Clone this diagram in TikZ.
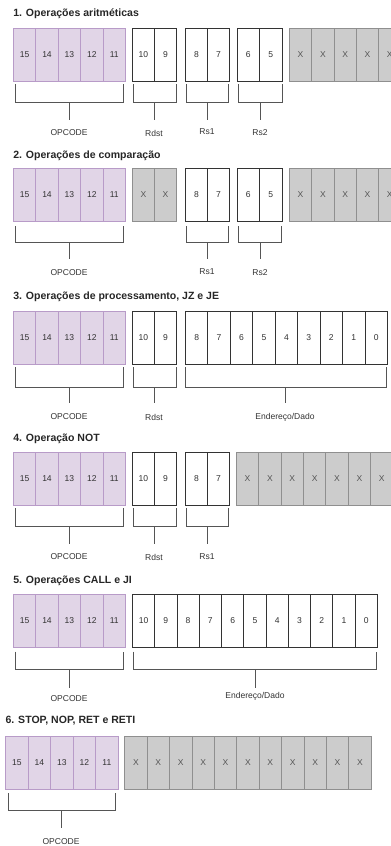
\documentclass[tikz,border=0pt]{standalone}
\usepackage{fontspec}
\setmainfont{Liberation Sans}
\definecolor{pfill}{HTML}{E1D5E7}
\definecolor{pdraw}{HTML}{B89BC8}
\definecolor{gfill}{HTML}{CCCCCC}
\definecolor{gdraw}{HTML}{8F8F8F}
\definecolor{txt}{HTML}{333333}
\definecolor{xtxt}{HTML}{555555}
\definecolor{brc}{HTML}{555555}
\tikzset{
  cellbase/.style={inner sep=0pt, line width=0.6pt, font=\fontsize{6.4pt}{7pt}\selectfont},
  opc/.style={cellbase, draw=pdraw, fill=pfill, text=txt},
  wht/.style={cellbase, draw=black!80, fill=white, text=txt},
  gry/.style={cellbase, draw=gdraw, fill=gfill, text=xtxt},
  brk/.style={draw=brc, line width=0.6pt},
  lbl/.style={inner sep=0pt, text=txt, font=\fontsize{6.4pt}{7pt}\selectfont},
  ttl/.style={inner sep=0pt, anchor=west, font=\bfseries\fontsize{7.9pt}{9pt}\selectfont, text=black!85}
}
% #1 name, #2 x0, #3 x1, #4 ytop, #5 n, #6 style, #7 labels
\newcommand\grp[7]{%
  \pgfmathsetmacro\cw{(#3-#2)/#5}%
  \foreach \t [count=\i from 0] in {#7}{%
    \node[#6, anchor=north west, minimum width=\cw*0.75pt, minimum height=52.5*0.75pt] (#1-\i) at ({#2+\i*\cw},#4) {\t};
  }%
}
% #1 name, #2 x0, #3 x1, #4 ytop, #5 yh, #6 ybot, #7 stem x, #8 label y, #9 text
\newcommand\brkt[9]{%
  \coordinate (#1-a) at (#2,#4);
  \coordinate (#1-b) at (#3,#4);
  \coordinate (#1-m) at (#7,#5);
  \coordinate (#1-e) at (#7,#6);
  \draw[brk] (#1-a) -- (#1-a |- #1-m) -- (#1-b |- #1-m) -- (#1-b);
  \draw[brk] (#1-m) -- (#1-e);
  \node[lbl] (#1-t) at (#7,#8) {#9};
}
\begin{document}
\begin{tikzpicture}[x=0.75pt,y=-0.75pt]
\useasboundingbox (0,0) rectangle (391,846);
\clip (0,0) rectangle (391,846);
% ---------- 1
\node[ttl] (t1) at (13,14) {1. Operações aritméticas};
\grp{a}{13}{125}{28}{5}{opc}{15,14,13,12,11}
\grp{b}{132}{176}{28}{2}{wht}{10,9}
\grp{c}{185}{229}{28}{2}{wht}{8,7}
\grp{d}{236.5}{281.5}{28}{2}{wht}{6,5}
\grp{e}{289}{400.5}{28}{5}{gry}{X,X,X,X,X}
\brkt{a1}{15.5}{123}{84}{102}{120}{69}{133}{OPCODE}
\brkt{b1}{133}{176}{84}{102}{120}{154}{133}{Rdst}
\brkt{c1}{186}{228}{84}{102}{120}{207}{132}{Rs1}
\brkt{d1}{238.5}{282.5}{84}{102}{120}{260}{133}{Rs2}
% ---------- 2
\node[ttl] (t2) at (13,155.7) {2. Operações de comparação};
\grp{f}{13}{125}{168}{5}{opc}{15,14,13,12,11}
\grp{g}{132}{176}{168}{2}{gry}{X,X}
\grp{h}{185}{229}{168}{2}{wht}{8,7}
\grp{i}{236.5}{281.5}{168}{2}{wht}{6,5}
\grp{j}{289}{400.5}{168}{5}{gry}{X,X,X,X,X}
\brkt{a2}{15.5}{123}{226}{242}{259}{69}{273}{OPCODE}
\brkt{c2}{186}{228}{226}{242}{259}{207}{272}{Rs1}
\brkt{d2}{238}{281}{226}{242}{259}{260}{273}{Rs2}
% ---------- 3
\node[ttl] (t3) at (13,297) {3. Operações de processamento, JZ e JE};
\grp{k}{13}{125}{311.3}{5}{opc}{15,14,13,12,11}
\grp{l}{132}{176}{311.3}{2}{wht}{10,9}
\grp{m}{185}{387}{311.3}{9}{wht}{8,7,6,5,4,3,2,1,0}
\brkt{a3}{15.5}{123}{367}{387}{403}{69}{417}{OPCODE}
\brkt{b3}{133}{176}{367}{387}{403}{154}{417}{Rdst}
\brkt{e3}{185}{386}{367}{387}{403}{285}{417}{Endereço/Dado}
% ---------- 4
\node[ttl] (t4) at (13,439) {4. Operação NOT};
\grp{n}{13}{125}{452.3}{5}{opc}{15,14,13,12,11}
\grp{o}{132}{176}{452.3}{2}{wht}{10,9}
\grp{p}{185}{229}{452.3}{2}{wht}{8,7}
\grp{q}{236}{392.6}{452.3}{7}{gry}{X,X,X,X,X,X,X}
\brkt{a4}{15.5}{123}{508}{526.7}{544}{69}{557}{OPCODE}
\brkt{b4}{133}{176}{508}{526.7}{544}{154}{557}{Rdst}
\brkt{c4}{186}{228}{508}{526.7}{544}{207}{557}{Rs1}
% ---------- 5
\node[ttl] (t5) at (13,580.7) {5. Operações CALL e JI};
\grp{r}{13}{125}{594}{5}{opc}{15,14,13,12,11}
\grp{s}{132}{377}{594}{11}{wht}{10,9,8,7,6,5,4,3,2,1,0}
\brkt{a5}{15.5}{123}{651.7}{669.3}{688.3}{69}{699}{OPCODE}
\brkt{e5}{133}{376}{651.7}{669.3}{688.3}{255}{696}{Endereço/Dado}
% ---------- 6
\node[ttl] (t6) at (5.3,720.7) {6. STOP, NOP, RET e RETI};
\grp{u}{5.3}{117.7}{736}{5}{opc}{15,14,13,12,11}
\grp{v}{124.3}{370.7}{736}{11}{gry}{X,X,X,X,X,X,X,X,X,X,X}
\brkt{a6}{8}{115}{793.3}{810.7}{828.3}{61}{842}{OPCODE}
\end{tikzpicture}
\end{document}
